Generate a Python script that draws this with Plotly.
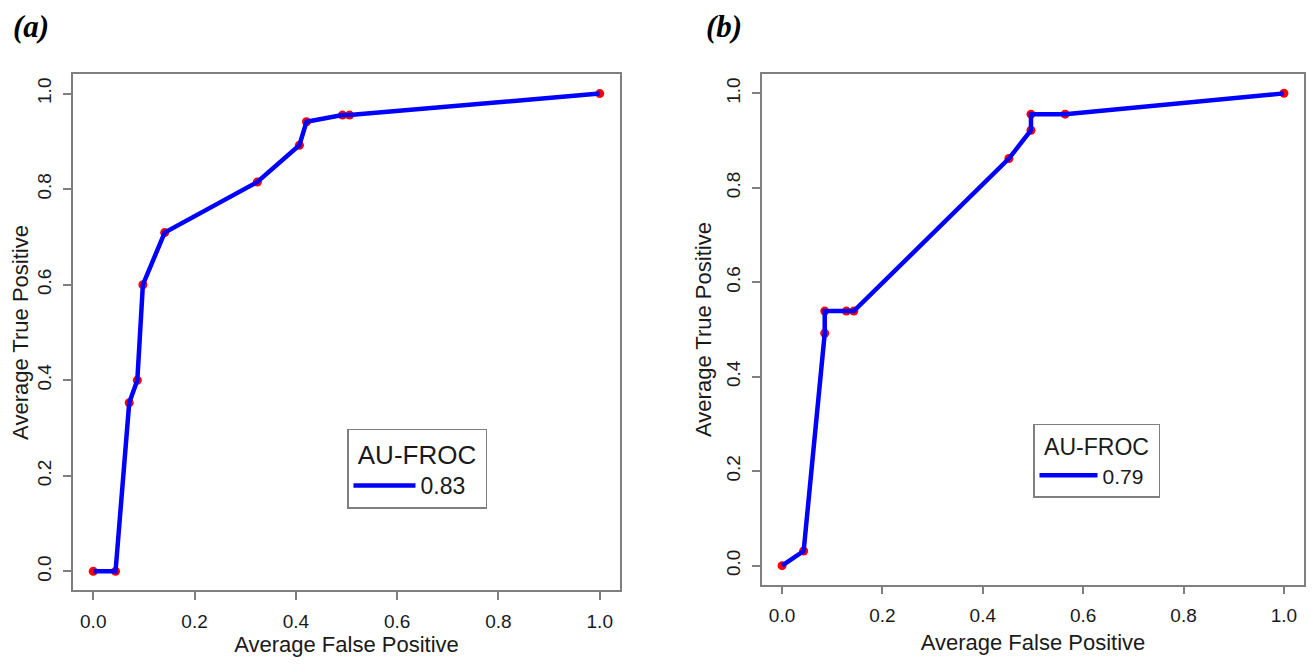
import plotly.graph_objects as go

# ---- data ----
fp_a = [0.0, 0.044, 0.071, 0.087, 0.098, 0.141, 0.324, 0.407, 0.421, 0.492, 0.506, 1.0]
tp_a = [0.0, 0.0, 0.353, 0.40, 0.60, 0.709, 0.815, 0.892, 0.941, 0.955, 0.955, 1.0]
fp_b = [0.0, 0.043, 0.085, 0.085, 0.128, 0.143, 0.452, 0.496, 0.496, 0.564, 1.0]
tp_b = [0.0, 0.031, 0.492, 0.539, 0.539, 0.539, 0.862, 0.922, 0.956, 0.956, 1.0]
auc_a = "0.83"
auc_b = "0.79"
tick_vals = [0.0, 0.2, 0.4, 0.6, 0.8, 1.0]
tick_text = ["0.0", "0.2", "0.4", "0.6", "0.8", "1.0"]
x_title = "Average False Positive"
y_title = "Average True Positive"
legend_title = "AU-FROC"
panel_labels = ["(a)", "(b)"]

# page has an 8px body margin; figure sized to fit the window
OFF = 8
W, H = 1315 - 2 * OFF, 665 - 2 * OFF
FONT = "Liberation Sans, Arial, sans-serif"
AXC = "#7f7f7f"
TXT = "#1a1a1a"

fig = go.Figure()

for fp, tp, xa, ya, name, leg in [
    (fp_a, tp_a, "x", "y", auc_a, "legend"),
    (fp_b, tp_b, "x2", "y2", auc_b, "legend2"),
]:
    fig.add_trace(go.Scatter(x=fp, y=tp, xaxis=xa, yaxis=ya, mode="markers",
                             marker=dict(color="#ff0000", size=9, line=dict(width=0)),
                             showlegend=False, hoverinfo="skip"))
    fig.add_trace(go.Scatter(x=fp, y=tp, xaxis=xa, yaxis=ya, mode="lines",
                             line=dict(color="#0000ff", width=4.5),
                             name=name, legend=leg, showlegend=True))

def px_x(p):
    return (p - OFF) / W

def px_y(p):
    return (H - (p - OFF)) / H

def xaxis(domain):
    return dict(domain=domain, range=[-0.04, 1.04], tickvals=tick_vals, ticktext=tick_text,
                showline=True, mirror=True, linecolor=AXC, linewidth=1.5,
                ticks="outside", ticklen=8, tickcolor=AXC, tickwidth=1.5,
                showgrid=False, zeroline=False, ticklabelstandoff=5,
                tickfont=dict(family=FONT, size=19, color=TXT),
                title=dict(text=x_title, font=dict(family=FONT, size=22, color=TXT), standoff=10))

def yaxis(domain):
    return dict(domain=domain, range=[-0.04, 1.04], tickvals=tick_vals, ticktext=tick_text,
                showline=True, mirror=True, linecolor=AXC, linewidth=1.5,
                ticks="outside", ticklen=8, tickcolor=AXC, tickwidth=1.5,
                showgrid=False, zeroline=False, tickangle=-90, ticklabelstandoff=5,
                tickfont=dict(family=FONT, size=19, color=TXT),
                title=dict(text=y_title, font=dict(family=FONT, size=22, color=TXT), standoff=5))

xa = xaxis([px_x(73), px_x(620)])
ya = yaxis([px_y(595), px_y(75)])
ya["anchor"] = "x"
xa["anchor"] = "y"
xb = xaxis([px_x(762), px_x(1304)])
yb = yaxis([px_y(589), px_y(75)])
xb["anchor"] = "y2"
yb["anchor"] = "x2"

def legend(x, y, tsize, isize, iw, ew):
    return dict(x=px_x(x), y=px_y(y), xanchor="left", yanchor="top",
                orientation="h",
                bgcolor="white", bordercolor=AXC, borderwidth=1.5,
                title=dict(text=legend_title, side="top center",
                           font=dict(family=FONT, size=tsize, color=TXT)),
                font=dict(family=FONT, size=isize, color=TXT),
                itemwidth=iw, entrywidth=ew, entrywidthmode="pixels", tracegroupgap=0)

fig.update_layout(
    width=W, height=H, margin=dict(l=0, r=0, t=0, b=0),
    paper_bgcolor="white", plot_bgcolor="white",
    xaxis=xa, yaxis=ya, xaxis2=xb, yaxis2=yb,
    legend=legend(347, 432, 26, 23, 62, 60),
    legend2=legend(1033, 427, 23, 21, 58, 51),
    font=dict(family=FONT, color=TXT),
    annotations=[
        dict(text="<b><i>" + panel_labels[0] + "</i></b>", x=px_x(12), y=1.0, xref="paper", yref="paper",
             xanchor="left", yanchor="top", showarrow=False, borderpad=0,
             font=dict(family="Liberation Serif, Times New Roman, serif", size=31, color="black")),
        dict(text="<b><i>" + panel_labels[1] + "</i></b>", x=px_x(705), y=1.0, xref="paper", yref="paper",
             xanchor="left", yanchor="top", showarrow=False, borderpad=0,
             font=dict(family="Liberation Serif, Times New Roman, serif", size=31, color="black")),
    ],
)

fig.write_html("out.html")
